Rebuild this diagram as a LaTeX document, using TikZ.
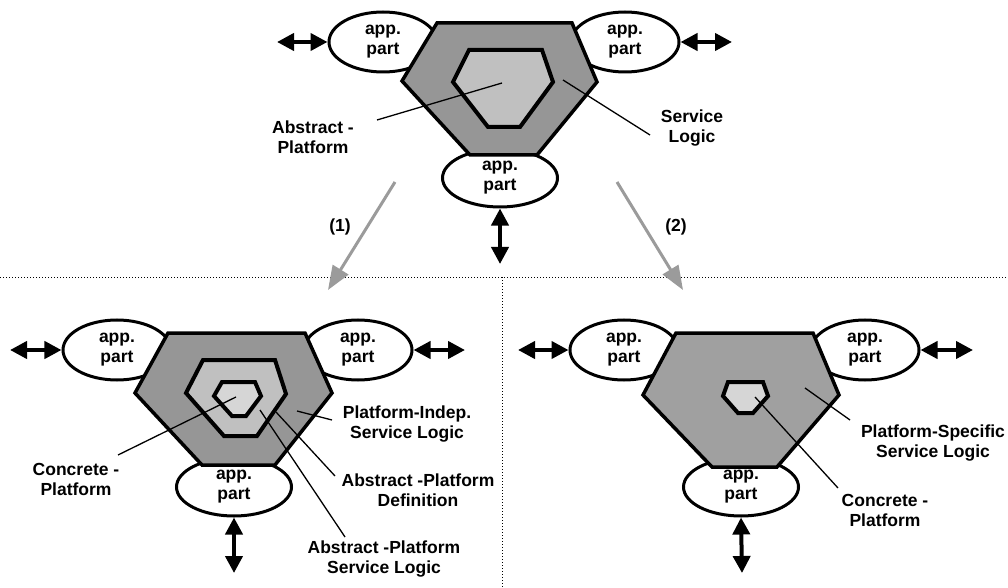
\documentclass[tikz,border=0pt]{standalone}
\usepackage{fontspec}
\setmainfont{Liberation Sans}
\usetikzlibrary{arrows.meta,shapes.geometric}
\definecolor{hexdark}{RGB}{150,150,150}
\definecolor{hexmid}{RGB}{192,192,192}
\definecolor{hexlight}{RGB}{214,214,214}
\definecolor{hexstip}{RGB}{160,160,160}
\definecolor{arrgray}{RGB}{155,155,155}
\begin{document}
\begin{tikzpicture}[x=1bp,y=-1bp,
 lbl/.style={align=center,inner sep=0,font=\fontsize{17.5bp}{20bp}\selectfont\bfseries},
 app/.style={ellipse,draw,line width=3bp,fill=white,minimum width=108bp,minimum height=60bp,inner sep=0,align=center,font=\fontsize{17.5bp}{20bp}\selectfont\bfseries},
 appb/.style={app,minimum width=115bp,minimum height=58bp},
 hexo/.style={draw,line width=3.5bp,line join=miter,fill=hexdark},
 hexi/.style={draw,line width=4bp,line join=miter,fill=hexmid},
 leader/.style={line width=1.3bp},
 dbl/.style={line width=4bp,{Triangle[length=17bp,width=17bp]}-{Triangle[length=17bp,width=17bp]}},
 flow/.style={line width=3bp,draw=arrgray,-{Triangle[length=24bp,width=18bp]}},
 sepline/.style={line width=1bp,dash pattern=on 1bp off 2bp}
]
\useasboundingbox (0,0) rectangle (1008,588);

% separators
\coordinate (hl) at (0,277);
\coordinate (hr) at (1008,277);
\coordinate (vt) at (502,277);
\coordinate (vb) at (502,588);
\draw[sepline] (hl) -- (hr);
\draw[sepline] (vt) -- (vb);

% ================= top diagram =================
\node[app]  (ttl) at (383,42) {app.\\part};
\node[app]  (ttr) at (625,42) {app.\\part};
\node[appb] (tb)  at (500,178) {app.\\part};
\draw[hexo] (437,23) -- (572,23) -- (597,82) -- (537,155) -- (470,155) -- (402,81) -- cycle;
\draw[hexi] (469,50) -- (542,50) -- (553,82) -- (520,127) -- (488,127) -- (453,82) -- cycle;

\node[lbl] (tap) at (313,137) {Abstract -\\Platform};
\node[lbl] (tsl) at (692,128) {Service\\Logic};
\coordinate (tapS) at (377,120);
\coordinate (tapE) at (502,83);
\coordinate (tslS) at (650,135);
\coordinate (tslE) at (563,80);
\draw[leader] (tapS) -- (tapE);
\draw[leader] (tslS) -- (tslE);

\coordinate (tlA) at (277,42);
\coordinate (trA) at (732,42);
\coordinate (tbA) at (500,264);
\draw[dbl] (ttl.west) -- (tlA);
\draw[dbl] (ttr.east) -- (trA);
\draw[dbl] (tb.south) -- (tbA);

% transformation arrows
\coordinate (f1s) at (395,182);
\coordinate (f1e) at (328,290);
\coordinate (f2s) at (617,182);
\coordinate (f2e) at (683,290);
\draw[flow] (f1s) -- (f1e);
\draw[flow] (f2s) -- (f2e);
\node[lbl] (n1) at (340,227) {(1)};
\node[lbl] (n2) at (676,227) {(2)};

% ================= bottom-left diagram =================
\node[app]  (ltl) at (117,350) {app.\\part};
\node[app]  (ltr) at (358,350) {app.\\part};
\node[appb] (lb)  at (234,487) {app.\\part};
\draw[hexo] (168,333) -- (305,333) -- (332,393) -- (275,465) -- (202,465) -- (135,393) -- cycle;
\draw[hexi] (203,360) -- (275,360) -- (286,394) -- (257,436) -- (224,436) -- (186,393) -- cycle;
\draw[hexi,fill=hexlight] (222,382) -- (255,382) -- (261,396) -- (246,416) -- (232,416) -- (214,396) -- cycle;

\node[lbl] (lcp) at (76,479) {Concrete -\\Platform};
\node[lbl] (lpi) at (407,424) {Platform-Indep.\\Service Logic};
\node[lbl] (lapd) at (418,490) {Abstract -Platform\\Definition};
\node[lbl] (lapsl) at (384,559) {Abstract -Platform\\Service Logic};
\coordinate (lcpS) at (118,455);
\coordinate (lcpE) at (236,397);
\coordinate (lpiS) at (332,420);
\coordinate (lpiE) at (297,411);
\coordinate (lapdS) at (335,476);
\coordinate (lapdE) at (276,412);
\coordinate (lapslS) at (345,537);
\coordinate (lapslE) at (260,410);
\draw[leader] (lcpS) -- (lcpE);
\draw[leader] (lpiS) -- (lpiE);
\draw[leader] (lapdS) -- (lapdE);
\draw[leader] (lapslS) -- (lapslE);

\coordinate (llA) at (10,350);
\coordinate (lrA) at (465,350);
\coordinate (lbA) at (234,573);
\draw[dbl] (ltl.west) -- (llA);
\draw[dbl] (ltr.east) -- (lrA);
\draw[dbl] (lb.south) -- (lbA);

% ================= bottom-right diagram =================
\node[app]  (rtl) at (624,350) {app.\\part};
\node[app]  (rtr) at (865,350) {app.\\part};
\node[appb] (rb)  at (741,487) {app.\\part};
\draw[hexo,fill=hexstip] (676,333) -- (813,333) -- (839,395) -- (777,467) -- (712,467) -- (643,395) -- cycle;
\draw[hexi,fill=hexlight] (728,382) -- (763,382) -- (768,396) -- (753,413) -- (738,413) -- (723,396) -- cycle;

\node[lbl] (rps) at (933,443) {Platform-Specific\\Service Logic};
\node[lbl] (rcp) at (885,510) {Concrete -\\Platform};
\coordinate (rpsS) at (850,420);
\coordinate (rpsE) at (805,388);
\coordinate (rcpS) at (838,488);
\coordinate (rcpE) at (755,397);
\draw[leader] (rpsS) -- (rpsE);
\draw[leader] (rcpS) -- (rcpE);

\coordinate (rlA) at (518,350);
\coordinate (rrA) at (973,350);
\coordinate (rbA) at (742,573);
\draw[dbl] (rtl.west) -- (rlA);
\draw[dbl] (rtr.east) -- (rrA);
\draw[dbl] (rb.south) -- (rbA);
\end{tikzpicture}
\end{document}
